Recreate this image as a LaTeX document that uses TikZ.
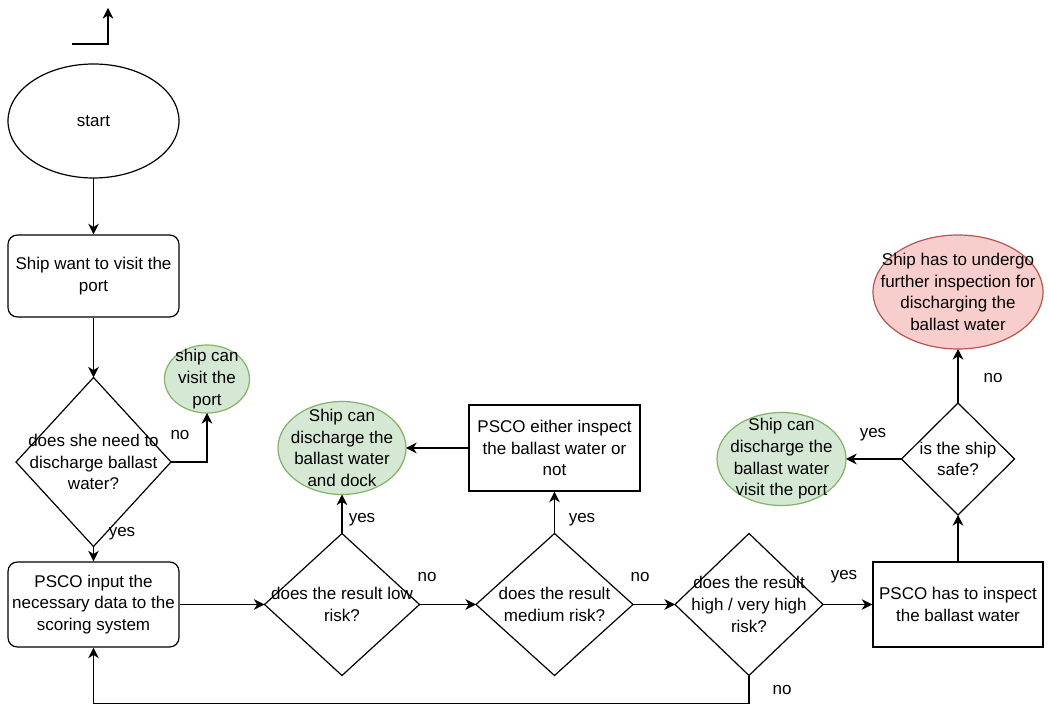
\documentclass[tikz,border=0pt]{standalone}
\usepackage{fontspec}
\setmainfont{Liberation Sans}
\setsansfont{Liberation Sans}
\usepackage{tikz}
\usetikzlibrary{arrows.meta,shapes.geometric}
\definecolor{okfill}{HTML}{D5E8D4}
\definecolor{okline}{HTML}{82B366}
\definecolor{badfill}{HTML}{F8CECC}
\definecolor{badline}{HTML}{B85450}

\begin{document}
\begin{tikzpicture}[x=0.75pt,y=-0.75pt]
    \sffamily

    \tikzset{TX/.style={align=center,inner sep=0mm,font=\fontsize{12.75}{16.3}\selectfont}}
    \tikzset{SL/.style={inner sep=0mm,font=\fontsize{12.75}{16.3}\selectfont}}
    \tikzset{SB/.style={TX,draw=black,line width=0.9pt,rounded corners=7pt,minimum width=128.25pt}}
    \tikzset{SQ/.style={TX,draw=black,line width=0.9pt,rectangle}}
    \tikzset{SD/.style={draw=black,line width=0.9pt,diamond,inner sep=0mm,outer sep=0mm}}
    \tikzset{SE/.style={draw=black,line width=0.9pt,ellipse,inner sep=0mm,outer sep=0mm}}
    \tikzset{SG/.style={SE,draw=okline,fill=okfill}}
    \tikzset{SX/.style={SE,draw=badline,fill=badfill}}
    \tikzset{AR/.style={draw=black,line width=0.9pt,-{Stealth[length=8pt,width=8pt,inset=2.5pt]}}}

    \useasboundingbox (0,0) rectangle (1050,705);

    \node (start) [SE,minimum width=128.25pt,minimum height=85.5pt,label={[TX]center:start}] at (93.5,121) {};
    \node (visit) [SB,minimum height=61.5pt] at (93.5,276) {Ship want to visit the\\port};
    \node (need) [SD,minimum width=116.25pt,minimum height=126.75pt,
        label={[TX]center:does she need to\\discharge ballast\\water?}] at (93.5,462) {};
        \node (canvisit) [SG,minimum width=63.75pt,minimum height=51pt,
            label={[TX]center:ship can\\visit the\\port}] at (207,379) {};
    \node (input) [SB,minimum height=63.75pt] at (93.5,604.5) {PSCO input the\\necessary data to the\\scoring system};
    \node (low) [SD,minimum width=116.25pt,minimum height=106.5pt,
        label={[TX]center:does the result low\\risk?}] at (342,604.5) {};
        \node (dock) [SG,minimum width=96pt,minimum height=69.75pt,
            label={[TX]center:Ship can\\discharge the\\ballast water\\and dock}] at (342,448) {};
    \node (medium) [SD,minimum width=117.75pt,minimum height=106.5pt,
        label={[TX]center:does the result\\medium risk?}] at (554.5,604.5) {};
        \node (either) [SQ,minimum width=128.25pt,minimum height=64.5pt] at (554.5,448) {PSCO either inspect\\the ballast water or\\not};
    \node (high) [SD,minimum width=111pt,minimum height=106.5pt,
        label={[TX]center:does the result\\high / very high\\risk?}] at (749,604.5) {};
    \node (inspect) [SQ,minimum width=127.5pt,minimum height=63.75pt] at (958,604.5) {PSCO has to inspect\\the ballast water};
        \node (safe) [SD,minimum width=84.75pt,minimum height=84pt,
            label={[TX]center:is the ship\\safe?}] at (958,459) {};
            \node (further) [SX,minimum width=127.5pt,minimum height=85.5pt,
                label={[TX]center:Ship has to undergo\\further inspection for\\discharging the\\ballast water}] at (958,292) {};
            \node (portok) [SG,minimum width=96.75pt,minimum height=69.75pt,
                label={[TX]center:Ship can\\discharge the\\ballast water\\visit the port}] at (781.5,459) {};

    % yes / no
    \node (no1) [SL] at (180,435) {no};
    \node (yes1) [SL] at (122,534) {yes};
    \node (yes2) [SL] at (362,520) {yes};
    \node (no2) [SL] at (427,577) {no};
    \node (yes3) [SL] at (582,520) {yes};
    \node (no3) [SL] at (640,577) {no};
    \node (yes4) [SL] at (844,577) {yes};
    \node (no4) [SL] at (782,690) {no};
    \node (no5) [SL] at (993,378) {no};
    \node (yes5) [SL] at (873,435) {yes};

    \coordinate (s0) at (72,44);
    \coordinate (s1) at (108,8);
    \draw[AR] (s0) -| (s1);

    \draw[AR] (start) -- (visit);
    \draw[AR] (visit) -- (need);
    \draw[AR] (need.east) -| (canvisit.south);
    \draw[AR] (need) -- (input);
    \draw[AR] (input) -- (low);
    \draw[AR] (low) -- (dock);
    \draw[AR] (low) -- (medium);
    \draw[AR] (medium) -- (either);
    \draw[AR] (either) -- (dock);
    \draw[AR] (medium) -- (high);
    \draw[AR] (high) -- (inspect);
    \draw[AR] (inspect) -- (safe);
    \draw[AR] (safe) -- (further);
    \draw[AR] (safe) -- (portok);
    \draw[AR] (high.south) -- ++(0,28) -| (input.south);
\end{tikzpicture}
\end{document}
